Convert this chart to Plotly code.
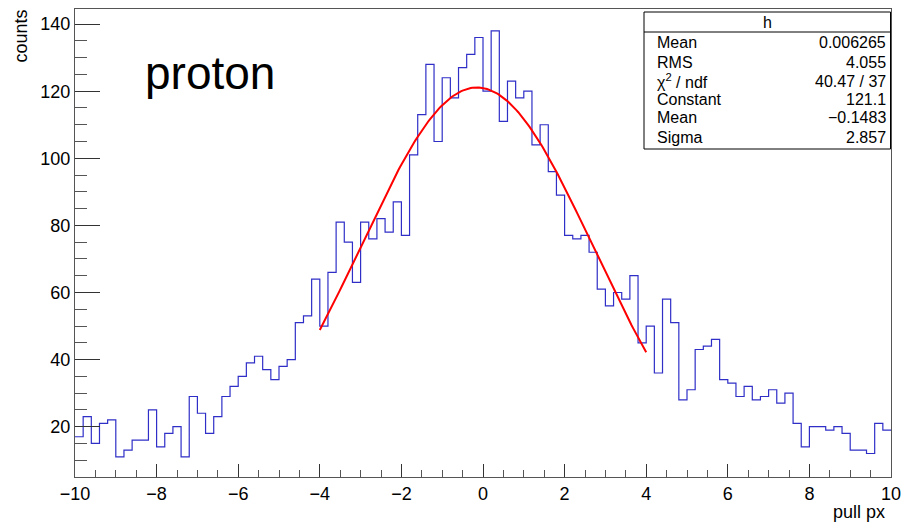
import numpy as np
import plotly.graph_objects as go

# Histogram: 100 bins from -10 to 10
x_min, x_max, n_bins = -10.0, 10.0, 100
counts = [17, 23, 15, 21, 22, 11, 13, 16, 16, 25,
          14, 18, 20, 11, 29, 24, 18, 23, 29, 32,
          35, 39, 41, 37, 34, 38, 40, 51, 53, 64,
          50, 66, 81, 75, 63, 81, 76, 82, 78, 87,
          77, 101, 113, 128, 105, 124, 118, 127, 131, 136,
          120, 138, 111, 123, 118, 120, 104, 110, 96, 89,
          77, 76, 77, 72, 61, 56, 60, 58, 65, 45,
          50, 36, 58, 51, 28, 31, 43, 44, 46, 34,
          33, 29, 32, 28, 29, 31, 27, 30, 21, 14,
          20, 20, 19, 20, 18, 13, 13, 12, 21, 19]

# Gaussian fit parameters (from stats box)
fit_const, fit_mean, fit_sigma = 121.1, -0.1483, 2.857
fit_range = (-4.0, 4.0)

stat_labels = ["Mean", "RMS", "\u03c7<sup>2</sup> / ndf", "Constant", "Mean", "Sigma"]
stat_values = ["0.006265", "4.055", "40.47 / 37", "121.1", "\u22120.1483", "2.857"]

edges = np.linspace(x_min, x_max, n_bins + 1)
hx = list(edges)
hy = list(counts) + [counts[-1]]

fx = np.linspace(fit_range[0], fit_range[1], 200)
fy = fit_const * np.exp(-0.5 * ((fx - fit_mean) / fit_sigma) ** 2)

FONT = "Liberation Sans, Arial, Helvetica, sans-serif"

fig = go.Figure()
fig.add_trace(go.Scatter(x=hx, y=hy, mode="lines", line=dict(shape="hv", color="#2f2fc8", width=1.2),
                         hoverinfo="skip", showlegend=False))
fig.add_trace(go.Scatter(x=fx, y=fy, mode="lines", line=dict(color="#ff0000", width=2),
                         hoverinfo="skip", showlegend=False))

W, H = 901, 524
L, R, T, B = 75, 10, 9, 47
pw, ph = W - L - R, H - T - B

def px(xp):
    return (xp - L) / pw

def py(yp):
    return (H - B - yp) / ph

fig.update_layout(
    width=W, height=H,
    margin=dict(l=L, r=R, t=T, b=B, autoexpand=False),
    paper_bgcolor="white", plot_bgcolor="white",
    font=dict(family=FONT, size=18, color="black"),
    xaxis=dict(range=[x_min, x_max], showgrid=False, zeroline=False, automargin=False,
               showline=True, linecolor="#555", linewidth=1, mirror=True,
               ticks="inside", ticklen=13, tickcolor="#333", tickwidth=1,
               tick0=-10, dtick=2, ticklabeloverflow="allow",
               minor=dict(ticks="inside", ticklen=7, tickcolor="#555", dtick=0.5, showgrid=False),
               tickfont=dict(size=18)),
    yaxis=dict(range=[5.0, 144.5], showgrid=False, zeroline=False, automargin=False,
               showline=True, linecolor="#555", linewidth=1, mirror=True,
               ticks="inside", ticklen=25, tickcolor="#333", tickwidth=1,
               tick0=0, dtick=20,
               minor=dict(ticks="inside", ticklen=12, tickcolor="#555", dtick=5, showgrid=False),
               tickfont=dict(size=18)),
)

ann = []
ann.append(dict(text="counts", textangle=-90, xref="paper", yref="paper",
                x=px(20), y=py(8), xanchor="center", yanchor="top", showarrow=False,
                font=dict(size=18)))
ann.append(dict(text="pull px", xref="paper", yref="paper",
                x=px(887), y=py(512), xanchor="right", yanchor="middle", showarrow=False,
                font=dict(size=18)))
ann.append(dict(text="proton", xref="paper", yref="paper",
                x=px(143), y=py(73), xanchor="left", yanchor="middle", showarrow=False,
                font=dict(size=46)))

# Stats box
bx0, bx1, by0, by1 = 644, 890.5, 12, 149
fig.add_shape(type="rect", xref="paper", yref="paper", x0=px(bx0), x1=px(bx1), y0=py(by1), y1=py(by0),
              line=dict(color="black", width=1), fillcolor="white", layer="above")
fig.add_shape(type="line", xref="paper", yref="paper", x0=px(bx0), x1=px(bx1), y0=py(32), y1=py(32),
              line=dict(color="black", width=1), layer="above")
ann.append(dict(text="h", xref="paper", yref="paper", x=px((bx0 + bx1) / 2), y=py(22),
                xanchor="center", yanchor="middle", showarrow=False, font=dict(size=16)))
row_y = [43, 62, 81, 100, 118, 137]
for lab, val, yy in zip(stat_labels, stat_values, row_y):
    ann.append(dict(text=lab, xref="paper", yref="paper", x=px(655), y=py(yy),
                    xanchor="left", yanchor="middle", showarrow=False, font=dict(size=16)))
    ann.append(dict(text=val, xref="paper", yref="paper", x=px(888), y=py(yy),
                    xanchor="right", yanchor="middle", showarrow=False, font=dict(size=16)))

fig.update_layout(annotations=ann)
fig.write_html("out.html")
